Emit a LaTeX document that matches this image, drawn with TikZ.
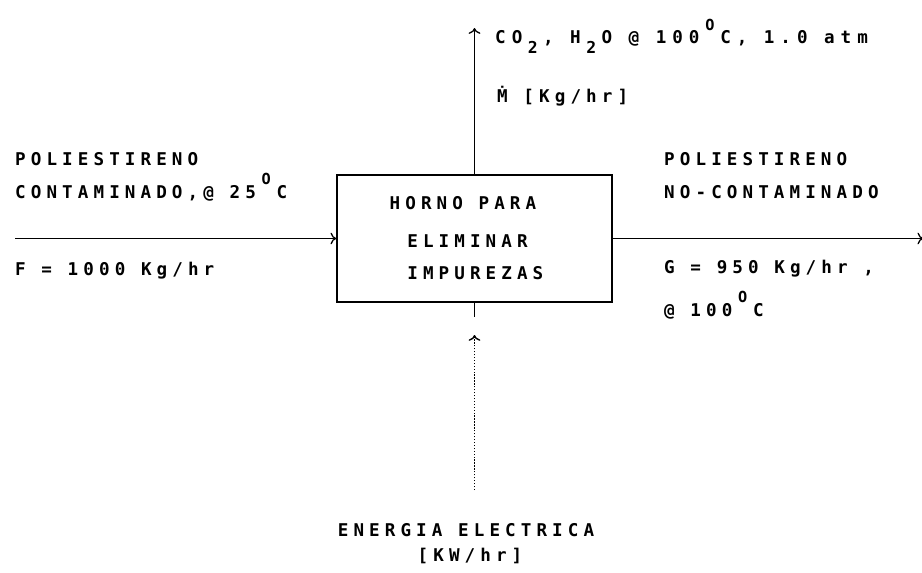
\documentclass[tikz,border=0pt]{standalone}
\usepackage{fontspec}
\usepackage{tikz}
\usetikzlibrary{arrows.meta,positioning}
\newfontfamily\plotfont[LetterSpace=29]{DejaVu Sans Mono}
\newcommand{\grado}{\makebox[1.18em]{\raisebox{1.45ex}{\fontsize{13}{15}\selectfont O}}}
\newcommand{\sub}[1]{\makebox[1.18em]{\raisebox{-1.0ex}{\fontsize{14}{16}\selectfont #1}}}

\begin{document}
\begin{tikzpicture}[
  every node/.style={font=\plotfont\bfseries\fontsize{15}{18}\selectfont},
  flujo/.style={-{To[length=5pt,width=10pt]}, line width=1.1pt},
  rotulo/.style={anchor=base west, inner sep=0pt}]
  \useasboundingbox (0,0) rectangle (27.66,17.16);

  % Horno
  \node[draw, line width=1.1pt, minimum width=8.25cm, minimum height=3.81cm]
    (horno) at (14.235,10.005) {};
  \node[align=left, inner sep=0pt] (htexto) at ([xshift=-0.24cm, yshift=0.02cm]horno.center)
    {HORNO PARA\\[0.5cm]\hspace{0.53cm}ELIMINAR\\[0.33cm]\hspace{0.53cm}IMPUREZAS};

  % Corrientes
  \coordinate (entrada) at (0.45,10.005);
  \coordinate (salida) at (27.7,10.005);
  \coordinate (gases) at (14.235,16.32);
  \coordinate (talon) at (14.235,7.65);
  \coordinate (punta) at (14.235,7.11);
  \coordinate (fuente) at (14.235,2.46);

  \draw[flujo] (entrada) -- (horno.west);
  \draw[flujo] (horno.east) -- (salida);
  \draw[flujo] (horno.north) -- (gases);
  \draw[line width=1.1pt] (horno.south) -- (talon);
  \draw[flujo, line width=1.2pt, dash pattern=on 1.1pt off 1.4pt] (fuente) -- (punta);

  % Entrada
  \node[rotulo] (ent1) at (0.45,12.21) {POLIESTIRENO};
  \node[rotulo] (ent2) at (0.45,11.22) {CONTAMINADO,@ 25\grado C};
  \node[rotulo] (ent3) at (0.45,8.91) {F = 1000 Kg/hr};

  % Salida
  \node[rotulo] (sal1) at (19.92,12.21) {POLIESTIRENO};
  \node[rotulo] (sal2) at (19.92,11.22) {NO-CONTAMINADO};
  \node[rotulo] (sal3) at (19.92,8.97) {G = 950 Kg/hr ,};
  \node[rotulo] (sal4) at (19.92,7.68) {@ 100\grado C};

  % Gases
  \node[rotulo] (gas1) at (14.85,15.84)
    {\addfontfeature{LetterSpace=34}CO\sub{2}, H\sub{2}O @ 100\grado C, 1.0 atm};
  \node[rotulo] (gas2) at (14.91,14.07) {\.M [Kg/hr]};

  % Energia
  \node (ener1) at (13.98,1.26) {ENERGIA ELECTRICA};
  \node (ener2) at (14.1,0.48) {[KW/hr]};
\end{tikzpicture}
\end{document}
